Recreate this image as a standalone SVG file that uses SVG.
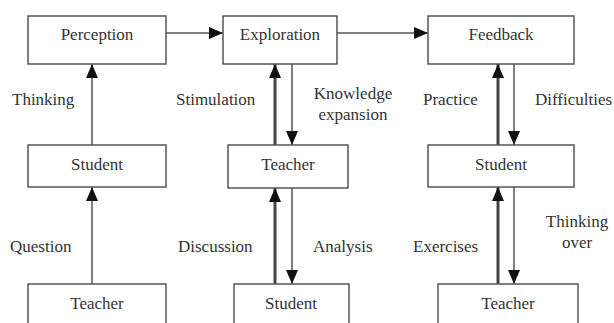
<svg xmlns="http://www.w3.org/2000/svg" width="614" height="323" viewBox="0 0 614 323">
<defs>
<style>
.box{fill:#fff;stroke:#555;stroke-width:1.5}
.t{font-family:"Liberation Serif","Times New Roman",serif;font-size:17px;fill:#333}
.c{text-anchor:middle}
.thin{stroke:#555;stroke-width:1.5;fill:none}
.thick{stroke:#444;stroke-width:3;fill:none}
</style>
<marker id="ah" viewBox="0 0 14 12" refX="14" refY="6" markerUnits="userSpaceOnUse" markerWidth="14" markerHeight="12" orient="auto">
<path d="M0,0 L14,6 L0,12 Z" fill="#111"/>
</marker>
</defs>
<rect width="614" height="323" fill="#fff"/>
<g id="connectors">
<line class="thin" x1="166" y1="33" x2="223" y2="33" marker-end="url(#ah)"/>
<line class="thin" x1="337" y1="33" x2="428" y2="33" marker-end="url(#ah)"/>
<line class="thin" x1="92" y1="145" x2="92" y2="64" marker-end="url(#ah)"/>
<line class="thin" x1="92" y1="284" x2="92" y2="187" marker-end="url(#ah)"/>
<line class="thick" x1="275" y1="145" x2="275" y2="64" marker-end="url(#ah)"/>
<line class="thin" x1="292" y1="64" x2="292" y2="145" marker-end="url(#ah)"/>
<line class="thick" x1="275" y1="284" x2="275" y2="188" marker-end="url(#ah)"/>
<line class="thin" x1="292" y1="188" x2="292" y2="284" marker-end="url(#ah)"/>
<line class="thick" x1="498" y1="145" x2="498" y2="64" marker-end="url(#ah)"/>
<line class="thin" x1="514" y1="64" x2="514" y2="145" marker-end="url(#ah)"/>
<line class="thick" x1="498" y1="284" x2="498" y2="187" marker-end="url(#ah)"/>
<line class="thin" x1="514" y1="187" x2="514" y2="284" marker-end="url(#ah)"/>
<text class="t" x="12" y="105">Thinking</text>
<text class="t" x="176" y="105">Stimulation</text>
<text class="t c" x="353" y="99">Knowledge</text>
<text class="t c" x="353" y="120">expansion</text>
<text class="t" x="423" y="105">Practice</text>
<text class="t" x="535" y="105">Difficulties</text>
<text class="t" x="10" y="252">Question</text>
<text class="t" x="178" y="252">Discussion</text>
<text class="t" x="313" y="252">Analysis</text>
<text class="t" x="413" y="252">Exercises</text>
<text class="t c" x="577" y="227">Thinking</text>
<text class="t c" x="577" y="248">over</text>
</g>
<g id="perception"><rect class="box" x="28" y="16" width="138" height="48"/><text class="t c" x="97" y="40">Perception</text></g>
<g id="exploration"><rect class="box" x="223" y="16" width="114" height="48"/><text class="t c" x="280" y="40">Exploration</text></g>
<g id="feedback"><rect class="box" x="428" y="16" width="146" height="48"/><text class="t c" x="501" y="40">Feedback</text></g>
<g id="student1"><rect class="box" x="28" y="145" width="138" height="42"/><text class="t c" x="97" y="170">Student</text></g>
<g id="teacher2"><rect class="box" x="228" y="145" width="120" height="43"/><text class="t c" x="288" y="170">Teacher</text></g>
<g id="student3"><rect class="box" x="428" y="145" width="146" height="42"/><text class="t c" x="501" y="170">Student</text></g>
<g id="teacher1"><rect class="box" x="28" y="284" width="138" height="45"/><text class="t c" x="97" y="309">Teacher</text></g>
<g id="student2"><rect class="box" x="234" y="284" width="115" height="45"/><text class="t c" x="291" y="309">Student</text></g>
<g id="teacher3"><rect class="box" x="438" y="284" width="140" height="45"/><text class="t c" x="508" y="309">Teacher</text></g>
</svg>
